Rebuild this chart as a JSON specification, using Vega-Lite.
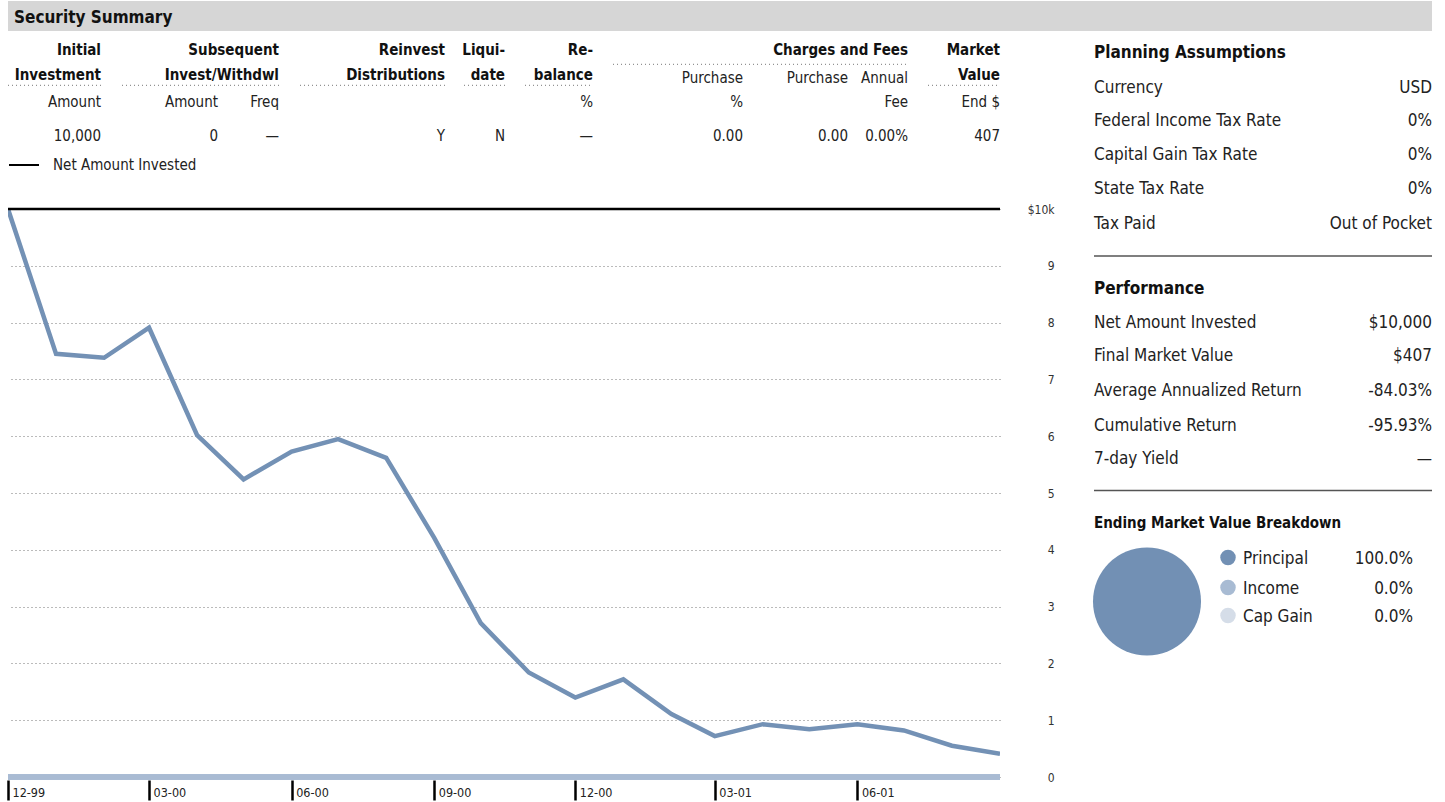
{
  "$schema": "https://vega.github.io/schema/vega-lite/v6.json",
  "padding": {"left": 5, "top": 1, "right": 0, "bottom": 0},
  "background": "white",
  "config": {
    "font": "Liberation Sans Narrow, DejaVu Sans Condensed, Roboto Condensed, sans-serif",
    "view": {"stroke": null},
    "text": {"color": "#222"}
  },
  "datasets": {
    "perf": [
      {"date": "1999-12-01T00:00:00", "value": 10000, "net": 10000},
      {"date": "2000-01-01T00:00:00", "value": 7450, "net": 10000},
      {"date": "2000-02-01T00:00:00", "value": 7380, "net": 10000},
      {"date": "2000-03-01T00:00:00", "value": 7910, "net": 10000},
      {"date": "2000-04-01T00:00:00", "value": 6020, "net": 10000},
      {"date": "2000-05-01T00:00:00", "value": 5240, "net": 10000},
      {"date": "2000-06-01T00:00:00", "value": 5730, "net": 10000},
      {"date": "2000-07-01T00:00:00", "value": 5950, "net": 10000},
      {"date": "2000-08-01T00:00:00", "value": 5620, "net": 10000},
      {"date": "2000-09-01T00:00:00", "value": 4210, "net": 10000},
      {"date": "2000-10-01T00:00:00", "value": 2710, "net": 10000},
      {"date": "2000-11-01T00:00:00", "value": 1840, "net": 10000},
      {"date": "2000-12-01T00:00:00", "value": 1400, "net": 10000},
      {"date": "2001-01-01T00:00:00", "value": 1720, "net": 10000},
      {"date": "2001-02-01T00:00:00", "value": 1110, "net": 10000},
      {"date": "2001-03-01T00:00:00", "value": 720, "net": 10000},
      {"date": "2001-04-01T00:00:00", "value": 930, "net": 10000},
      {"date": "2001-05-01T00:00:00", "value": 840, "net": 10000},
      {"date": "2001-06-01T00:00:00", "value": 930, "net": 10000},
      {"date": "2001-07-01T00:00:00", "value": 820, "net": 10000},
      {"date": "2001-08-01T00:00:00", "value": 550, "net": 10000},
      {"date": "2001-09-01T00:00:00", "value": 407, "net": 10000}
    ],
    "hdrBold": [
      {"c": 1, "r": 0, "t": "Initial"},
      {"c": 4, "r": 0, "t": "Subsequent"},
      {"c": 6, "r": 0, "t": "Reinvest"},
      {"c": 8, "r": 0, "t": "Liqui-"},
      {"c": 10, "r": 0, "t": "Re-"},
      {"c": 14, "r": 0, "t": "Charges and Fees"},
      {"c": 16, "r": 0, "t": "Market"},
      {"c": 1, "r": 2, "t": "Investment"},
      {"c": 4, "r": 2, "t": "Invest/Withdwl"},
      {"c": 6, "r": 2, "t": "Distributions"},
      {"c": 8, "r": 2, "t": "date"},
      {"c": 10, "r": 2, "t": "balance"},
      {"c": 16, "r": 2, "t": "Value"}
    ],
    "hdrNormal": [
      {"c": 12, "r": 3, "t": "Purchase"},
      {"c": 13, "r": 3, "t": "Purchase"},
      {"c": 14, "r": 3, "t": "Annual"},
      {"c": 1, "r": 5, "t": "Amount"},
      {"c": 3, "r": 5, "t": "Amount"},
      {"c": 4, "r": 5, "t": "Freq"},
      {"c": 10, "r": 5, "t": "%"},
      {"c": 12, "r": 5, "t": "%"},
      {"c": 14, "r": 5, "t": "Fee"},
      {"c": 16, "r": 5, "t": "End $"},
      {"c": 1, "r": 6, "t": "10,000"},
      {"c": 3, "r": 6, "t": "0"},
      {"c": 4, "r": 6, "t": "—"},
      {"c": 6, "r": 6, "t": "Y"},
      {"c": 8, "r": 6, "t": "N"},
      {"c": 10, "r": 6, "t": "—"},
      {"c": 12, "r": 6, "t": "0.00"},
      {"c": 13, "r": 6, "t": "0.00"},
      {"c": 14, "r": 6, "t": "0.00%"},
      {"c": 16, "r": 6, "t": "407"}
    ],
    "hdrRules": [
      {"c": 0, "c2": 1, "r": 4},
      {"c": 2, "c2": 4, "r": 4},
      {"c": 5, "c2": 6, "r": 4},
      {"c": 7, "c2": 8, "r": 4},
      {"c": 9, "c2": 10, "r": 4},
      {"c": 11, "c2": 14, "r": 1},
      {"c": 15, "c2": 16, "r": 4}
    ],
    "sideHeads": [
      {"r": 0, "t": "Planning Assumptions"},
      {"r": 7, "t": "Performance"}
    ],
    "sideRows": [
      {"r": 1, "l": "Currency", "v": "USD"},
      {"r": 2, "l": "Federal Income Tax Rate", "v": "0%"},
      {"r": 3, "l": "Capital Gain Tax Rate", "v": "0%"},
      {"r": 4, "l": "State Tax Rate", "v": "0%"},
      {"r": 5, "l": "Tax Paid", "v": "Out of Pocket"},
      {"r": 8, "l": "Net Amount Invested", "v": "$10,000"},
      {"r": 9, "l": "Final Market Value", "v": "$407"},
      {"r": 10, "l": "Average Annualized Return", "v": "-84.03%"},
      {"r": 11, "l": "Cumulative Return", "v": "-95.93%"},
      {"r": 12, "l": "7-day Yield", "v": "—"}
    ],
    "sideRules": [{"r": 6}, {"r": 13}],
    "sideSmallHead": [{"r": 14, "t": "Ending Market Value Breakdown"}],
    "breakdown": [
      {"cat": "Principal", "v": 100, "pct": "100.0%", "r": 15, "o": 0},
      {"cat": "Income", "v": 0, "pct": "0.0%", "r": 16, "o": 1},
      {"cat": "Cap Gain", "v": 0, "pct": "0.0%", "r": 17, "o": 2}
    ]
  },
  "spacing": 0,
  "bounds": "flush",
  "resolve": {"scale": {"color": "independent"}, "legend": {"color": "independent"}},
  "vconcat": [
    {
      "width": 1424,
      "height": 30,
      "view": {"fill": "#d6d6d6", "stroke": null},
      "data": {"values": [{"t": "Security Summary"}]},
      "mark": {"type": "text", "align": "left", "baseline": "middle", "fontWeight": "bold", "fontSize": 17, "dx": 6, "dy": 1.5, "color": "#111"},
      "encoding": {"text": {"field": "t"}, "x": {"value": 0}}
    },
    {
      "columns": 2,
      "spacing": 0,
      "bounds": "flush",
      "align": "each",
      "resolve": {"scale": {"color": "independent"}, "legend": {"color": "independent"}},
      "concat": [
        {
          "width": 1086,
          "height": 178,
          "encoding": {
            "x": {"field": "c", "type": "quantitative", "axis": null,
              "scale": {"domain": [0,1,2,3,4,5,6,7,8,9,10,11,12,13,14,15,16], "range": [0,93,114,210,271,292,437,456,497,517,585,605,735,840,900,920,992], "nice": false, "zero": false}},
            "y": {"field": "r", "type": "quantitative", "axis": null,
              "scale": {"domain": [0,1,2,3,4,5,6], "range": [18.5,33.3,43.5,46.7,54.3,71,105], "nice": false, "zero": false}}
          },
          "layer": [
            {
              "data": {"name": "hdrRules"},
              "mark": {"type": "rule", "strokeDash": [1, 3], "color": "#777", "strokeWidth": 1},
              "encoding": {"x2": {"field": "c2"}}
            },
            {
              "data": {"name": "hdrBold"},
              "mark": {"type": "text", "align": "right", "baseline": "middle", "fontWeight": "bold", "fontSize": 15, "color": "#111"},
              "encoding": {"text": {"field": "t"}}
            },
            {
              "data": {"name": "hdrNormal"},
              "mark": {"type": "text", "align": "right", "baseline": "middle", "fontSize": 15, "color": "#222"},
              "encoding": {"text": {"field": "t"}}
            }
          ]
        },
        {
          "width": 338,
          "height": 178,
          "encoding": {
            "y": {"field": "r", "type": "quantitative", "axis": null,
              "scale": {"domain": [0,1,2,3,4,5,6,7,8,9,10,11,12,13,14,15,16,17], "range": [20.5,56,89,122.5,156.5,191.5,225,256.5,290.7,324,359,394,427.3,459.5,490.7,526.5,556.5,584.5], "nice": false, "zero": false}}
          },
          "layer": [
            {
              "data": {"name": "sideRules"},
              "mark": {"type": "rule", "color": "#555", "strokeWidth": 1.3}
            },
            {
              "data": {"name": "sideHeads"},
              "mark": {"type": "text", "align": "left", "baseline": "middle", "fontWeight": "bold", "fontSize": 17, "dy": 1, "color": "#111"},
              "encoding": {"text": {"field": "t"}, "x": {"value": 0}}
            },
            {
              "data": {"name": "sideSmallHead"},
              "mark": {"type": "text", "align": "left", "baseline": "middle", "fontWeight": "bold", "fontSize": 15, "dy": 1, "color": "#111"},
              "encoding": {"text": {"field": "t"}, "x": {"value": 0}}
            },
            {
              "data": {"name": "sideRows"},
              "mark": {"type": "text", "align": "left", "baseline": "middle", "fontSize": 17, "dy": 1},
              "encoding": {"text": {"field": "l"}, "x": {"value": 0}}
            },
            {
              "data": {"name": "sideRows"},
              "mark": {"type": "text", "align": "right", "baseline": "middle", "fontSize": 17, "dy": 1},
              "encoding": {"text": {"field": "v"}, "x": {"value": "width"}}
            },
            {
              "data": {"name": "breakdown"},
              "mark": {"type": "arc", "outerRadius": 54},
              "encoding": {
                "x": {"datum": 1, "type": "quantitative", "axis": null,
                  "scale": {"domain": [0,1,2,3,4,5], "range": [0,53,134,149,319,338], "nice": false, "zero": false}},
                "y": {"datum": 16.5, "type": "quantitative"},
                "theta": {"field": "v", "type": "quantitative", "stack": true},
                "order": {"field": "o"},
                "color": {"field": "cat", "type": "nominal", "legend": null,
                  "scale": {"domain": ["Principal", "Income", "Cap Gain"], "range": ["#7290b4", "#a8bbd3", "#d5dde8"]}}
              }
            },
            {
              "data": {"name": "breakdown"},
              "mark": {"type": "circle", "size": 240, "opacity": 1},
              "encoding": {
                "x": {"datum": 2, "type": "quantitative", "axis": null,
                  "scale": {"domain": [0,1,2,3,4,5], "range": [0,53,134,149,319,338], "nice": false, "zero": false}},
                "color": {"field": "cat", "type": "nominal", "legend": null}
              }
            },
            {
              "data": {"name": "breakdown"},
              "mark": {"type": "text", "align": "left", "baseline": "middle", "fontSize": 17, "dy": 1},
              "encoding": {
                "x": {"datum": 3, "type": "quantitative", "axis": null,
                  "scale": {"domain": [0,1,2,3,4,5], "range": [0,53,134,149,319,338], "nice": false, "zero": false}},
                "text": {"field": "cat"}}
            },
            {
              "data": {"name": "breakdown"},
              "mark": {"type": "text", "align": "right", "baseline": "middle", "fontSize": 17, "dy": 1},
              "encoding": {
                "x": {"datum": 4, "type": "quantitative", "axis": null,
                  "scale": {"domain": [0,1,2,3,4,5], "range": [0,53,134,149,319,338], "nice": false, "zero": false}},
                "text": {"field": "pct"}}
            }
          ]
        },
        {
          "width": 992,
          "height": 568,
          "data": {"name": "perf"},
          "layer": [
            {
              "mark": {"type": "rule", "color": "#a9bbd3", "strokeWidth": 5},
              "encoding": {"y": {"datum": 0, "type": "quantitative"}}
            },
            {
              "mark": {"type": "line", "color": "#7391b5", "strokeWidth": 4.5, "clip": true},
              "encoding": {
                "x": {"field": "date", "type": "temporal",
                  "scale": {"domain": [{"year": 1999, "month": 12, "date": 1}, {"year": 2001, "month": 9, "date": 1}], "nice": false},
                  "axis": {"title": null, "values": [
                    {"year": 1999, "month": 12, "date": 1},
                    {"year": 2000, "month": 3, "date": 1},
                    {"year": 2000, "month": 6, "date": 1},
                    {"year": 2000, "month": 9, "date": 1},
                    {"year": 2000, "month": 12, "date": 1},
                    {"year": 2001, "month": 3, "date": 1},
                    {"year": 2001, "month": 6, "date": 1}],
                    "format": "%m-%y", "domain": false, "grid": false, "ticks": true, "tickSize": 20, "tickWidth": 2.5, "tickColor": "#000",
                    "offset": 3, "labelAlign": "left", "labelBaseline": "middle", "labelPadding": -8, "labelOffset": 4,
                    "labelFontSize": 12.5, "labelColor": "#222", "labelOverlap": false, "labelFlush": false, "labelBound": false}},
                "y": {"field": "value", "type": "quantitative",
                  "scale": {"domain": [0, 10000], "nice": false},
                  "axis": {"title": null, "orient": "right", "values": [0,1000,2000,3000,4000,5000,6000,7000,8000,9000,10000],
                    "labelExpr": "datum.value == 10000 ? '$10k' : format(datum.value / 1000, 'd')",
                    "domain": false, "ticks": false, "tickSize": 0, "labelAlign": "right", "labelPadding": 54, "labelBaseline": "middle",
                    "labelFontSize": 12, "labelColor": "#333", "grid": true, "gridDash": [1, 3], "gridColor": "#777", "gridWidth": 1}}
              }
            },
            {
              "mark": {"type": "line", "strokeWidth": 2.5, "strokeJoin": "round"},
              "encoding": {
                "x": {"field": "date", "type": "temporal"},
                "y": {"field": "net", "type": "quantitative"},
                "color": {"datum": "Net Amount Invested", "type": "nominal",
                  "scale": {"range": ["#000000"]},
                  "legend": {"orient": "none", "legendX": 0, "legendY": -60, "symbolType": "stroke", "symbolSize": 900,
                    "symbolStrokeWidth": 2, "labelFontSize": 15, "labelOffset": 13, "labelColor": "#222", "title": null, "padding": 0}}
              }
            }
          ]
        }
      ]
    }
  ]
}
